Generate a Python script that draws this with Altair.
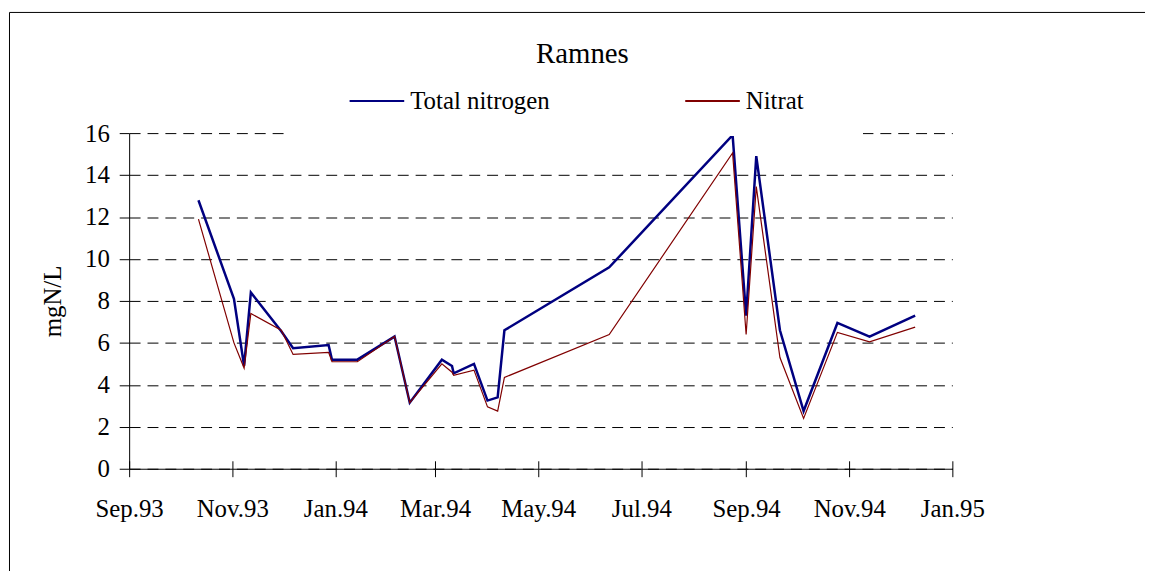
import altair as alt
import pandas as pd

# ---- data ----
dates = [
    "1993-10-12", "1993-11-02", "1993-11-08", "1993-11-12", "1993-11-30",
    "1993-12-07", "1993-12-28", "1993-12-30", "1994-01-14", "1994-02-05",
    "1994-02-14", "1994-03-05", "1994-03-11", "1994-03-12", "1994-03-24",
    "1994-04-01", "1994-04-07", "1994-04-11", "1994-06-12", "1994-08-24",
    "1994-09-01", "1994-09-07", "1994-09-21", "1994-10-05", "1994-10-25",
    "1994-11-13", "1994-12-10",
]
total_nitrogen = [
    12.8, 8.1, 4.9, 8.4, 6.55,
    5.75, 5.9, 5.2, 5.2, 6.3,
    3.15, 5.2, 4.9, 4.55, 5.0,
    3.25, 3.4, 6.6, 9.6, 15.9,
    7.3, 14.9, 6.6, 2.75, 6.95,
    6.3, 7.3,
]
nitrat = [
    11.9, 6.0, 4.8, 7.4, 6.6,
    5.45, 5.55, 5.1, 5.1, 6.3,
    3.15, 5.0, 4.6, 4.45, 4.7,
    2.95, 2.75, 4.35, 6.4, 15.05,
    6.4, 13.45, 5.3, 2.4, 6.5,
    6.05, 6.75,
]
series_names = ["Total nitrogen", "Nitrat"]
series_colors = ["#000080", "#800000"]
y_ticks = [0, 2, 4, 6, 8, 10, 12, 14, 16]
x_tick_months = [(1993, 9), (1993, 11), (1994, 1), (1994, 3), (1994, 5),
                 (1994, 7), (1994, 9), (1994, 11), (1995, 1)]

df = pd.DataFrame({
    "date": dates * 2,
    "value": total_nitrogen + nitrat,
    "series": [series_names[0]] * len(dates) + [series_names[1]] * len(dates),
})

FONT = "Liberation Serif"
tick_values = [alt.DateTime(year=y, month=m, date=1, utc=True) for y, m in x_tick_months]
x_scale = alt.Scale(type="utc", domain=[tick_values[0], tick_values[-1]])
y_scale = alt.Scale(domain=[0, 16])

color = alt.Color(
    "series:N",
    scale=alt.Scale(domain=series_names, range=series_colors),
    legend=alt.Legend(
        title="\u00a0", titleOrient="right", titlePadding=38,
        titleFontSize=25, titleFont=FONT,
        orient="none", legendX=156, legendY=-83,
        direction="horizontal", columns=2,
        symbolType="stroke", symbolSize=3025, symbolStrokeWidth=2,
        symbolOffset=43, columnPadding=92, labelOffset=5,
        labelFont=FONT, labelFontSize=25, labelColor="black",
        fillColor="white", padding=22,
    ),
)

y_axis = alt.Axis(
    title="mgN/L", values=y_ticks, tickSize=10, labelPadding=10,
    titlePadding=19, grid=True, gridDash=[11, 7], gridColor="black",
    gridWidth=1, gridOpacity=1, domainColor="black", tickColor="black",
    labelFont=FONT, labelFontSize=25, labelColor="black",
    titleFont=FONT, titleFontSize=25, titleFontWeight="normal", titleColor="black",
)
y_enc = alt.Y("value:Q", scale=y_scale, axis=y_axis)

base = alt.Chart(df)

total_line = base.transform_filter(alt.datum.series == series_names[0]).mark_line(strokeWidth=2.5).encode(
    x=alt.X("date:T", scale=x_scale, axis=alt.Axis(
        title=None, orient="bottom", values=tick_values,
        labelExpr="utcFormat(datum.value, '%b.%y')",
        tickSize=8, labelPadding=20, grid=False, domainColor="black", tickColor="black",
        labelFont=FONT, labelFontSize=25, labelColor="black",
        labelFlush=False, labelOverlap=False, labelBound=False,
    )),
    y=y_enc,
    color=color,
)

nitrat_line = base.transform_filter(alt.datum.series == series_names[1]).mark_line(strokeWidth=1.2).encode(
    x=alt.X("date:T", scale=x_scale, axis=alt.Axis(
        title=None, orient="bottom", values=tick_values, offset=-8,
        tickSize=8, labels=False, domain=False, grid=False, tickColor="black",
    )),
    y=y_enc,
    color=color,
)

frame = alt.Chart(pd.DataFrame({"f": [0]})).mark_rect(filled=False, stroke="black", strokeWidth=1).encode(
    x=alt.value(-120.5), x2=alt.value(1100), y=alt.value(-121.5), y2=alt.value(500)
)

chart = alt.layer(frame, total_line, nitrat_line).resolve_axis(x="independent").properties(
    width=829, height=338,
    background="white",
    autosize=alt.AutoSizeParams(type="none"),
    padding={"left": 122, "top": 124, "right": 194, "bottom": 101},
    title=alt.TitleParams(
        text="Ramnes", font=FONT, fontSize=29, fontWeight="normal", color="black",
        anchor="middle", dx=42, offset=-57,
    ),
).configure_view(stroke=None)

chart.save("out.html", embed_options={"renderer": "svg", "actions": False})
